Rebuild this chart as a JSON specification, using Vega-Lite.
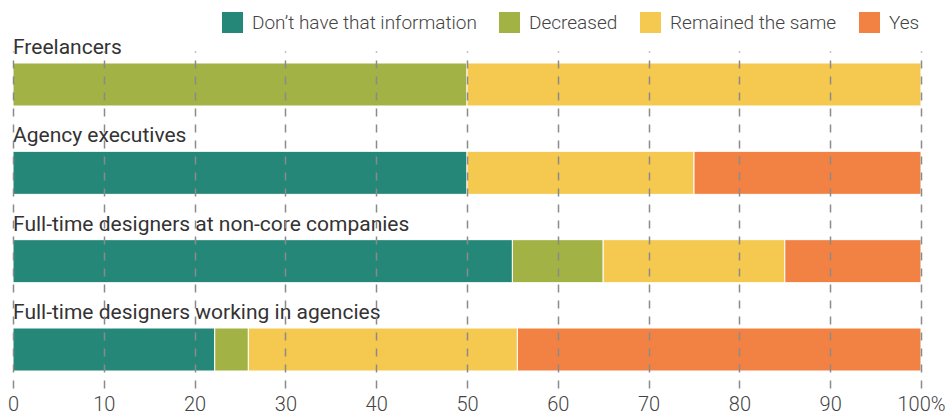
{
  "$schema": "https://vega.github.io/schema/vega-lite/v6.json",
  "autosize": {"type": "none"},
  "padding": {"left": 13, "top": 51, "right": 24, "bottom": 26},
  "width": 908,
  "height": 337,
  "background": "white",
  "config": {
    "view": {"stroke": null},
    "font": "Roboto"
  },
  "datasets": {
    "bars": [
      {"group": "Freelancers", "answer": "Decreased", "value": 50, "ord": 2},
      {"group": "Freelancers", "answer": "Remained the same", "value": 50, "ord": 3},
      {"group": "Agency executives", "answer": "Don’t have that information", "value": 50, "ord": 1},
      {"group": "Agency executives", "answer": "Remained the same", "value": 25, "ord": 3},
      {"group": "Agency executives", "answer": "Yes", "value": 25, "ord": 4},
      {"group": "Full-time designers at non-core companies", "answer": "Don’t have that information", "value": 55, "ord": 1},
      {"group": "Full-time designers at non-core companies", "answer": "Decreased", "value": 10, "ord": 2},
      {"group": "Full-time designers at non-core companies", "answer": "Remained the same", "value": 20, "ord": 3},
      {"group": "Full-time designers at non-core companies", "answer": "Yes", "value": 15, "ord": 4},
      {"group": "Full-time designers working in agencies", "answer": "Don’t have that information", "value": 22.22, "ord": 1},
      {"group": "Full-time designers working in agencies", "answer": "Decreased", "value": 3.7, "ord": 2},
      {"group": "Full-time designers working in agencies", "answer": "Remained the same", "value": 29.63, "ord": 3},
      {"group": "Full-time designers working in agencies", "answer": "Yes", "value": 44.45, "ord": 4}
    ],
    "labels": [
      {"group": "Freelancers"},
      {"group": "Agency executives"},
      {"group": "Full-time designers at non-core companies"},
      {"group": "Full-time designers working in agencies"}
    ]
  },
  "layer": [
    {
      "data": {"name": "bars"},
      "mark": {"type": "bar", "stroke": "white", "strokeWidth": 1},
      "encoding": {
        "y": {
          "field": "group",
          "type": "nominal",
          "sort": ["Freelancers", "Agency executives", "Full-time designers at non-core companies", "Full-time designers working in agencies"],
          "scale": {"paddingInner": 0.513, "paddingOuter": 0.164, "align": 0.414},
          "axis": null
        },
        "x": {
          "field": "value",
          "type": "quantitative",
          "stack": "zero",
          "scale": {"domain": [0, 100], "nice": false},
          "axis": {
            "values": [0, 10, 20, 30, 40, 50, 60, 70, 80, 90, 100],
            "grid": true,
            "gridDash": [8, 8],
            "gridColor": "#8a8a8a",
            "gridWidth": 1.5,
            "domain": false,
            "ticks": false,
            "labelFlush": false,
            "labelOverlap": false,
            "labelPadding": 6,
            "labelFontSize": 20,
            "labelFontWeight": 300,
            "labelColor": "#444444",
            "labelFont": "Roboto",
            "title": null,
            "zindex": 1,
            "labelExpr": "datum.value == 100 ? '100%' : datum.label"
          }
        },
        "color": {
          "field": "answer",
          "type": "nominal",
          "scale": {
            "domain": ["Don’t have that information", "Decreased", "Remained the same", "Yes"],
            "range": ["#248778", "#A3B244", "#F5C94F", "#F28244"]
          },
          "legend": {
            "title": null,
            "orient": "none",
            "direction": "horizontal",
            "legendX": 209,
            "legendY": -39,
            "symbolType": "square",
            "symbolSize": 441,
            "symbolStrokeWidth": 0,
            "symbolOpacity": 1,
            "labelFontSize": 19,
            "labelFontWeight": 300,
            "labelColor": "#444444",
            "labelFont": "Roboto",
            "labelLimit": 400,
            "labelOffset": 9,
            "columnPadding": 22
          }
        },
        "order": {"field": "ord", "type": "quantitative"}
      }
    },
    {
      "data": {"name": "labels"},
      "mark": {"type": "text", "align": "left", "baseline": "alphabetic", "dy": -9, "fontSize": 21, "font": "Roboto", "color": "#333333"},
      "encoding": {
        "y": {
          "field": "group",
          "type": "nominal",
          "bandPosition": 0,
          "sort": ["Freelancers", "Agency executives", "Full-time designers at non-core companies", "Full-time designers working in agencies"]
        },
        "x": {"datum": 0},
        "text": {"field": "group"}
      }
    }
  ]
}
